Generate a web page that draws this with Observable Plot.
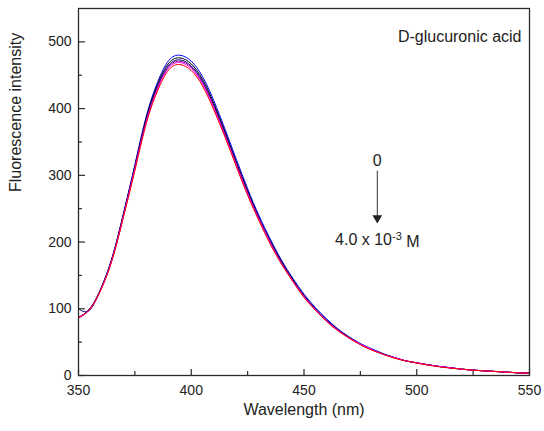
<!DOCTYPE html>
<html>
<head>
<meta charset="utf-8">
<script src="https://cdn.jsdelivr.net/npm/d3@7"></script>
<script src="https://cdn.jsdelivr.net/npm/@observablehq/plot@0.6"></script>
<style>
  html, body { margin: 0; padding: 0; background: #fff; }
  svg { font-family: "Liberation Sans", Arial, sans-serif; }
</style>
</head>
<body>
<div id="chart"></div>
<script>
// Wavelength (nm)
const wavelengths = [350,355,360,365,370,375,380,385,390,395,400,405,410,415,420,425,430,435,440,445,450,455,460,465,470,475,480,485,490,495,500,505,510,515,520,525,530,535,540,545,550];

// Fluorescence intensity, one array per concentration (0 -> 4.0e-3 M)
const seriesBlue    = [87,100,131,178,244,316,388,439,472,480,471,448,412,369,324,280,240,205,173,146,122,102,85,70,58,48,40,33,27,22,19,16,13.5,11.5,9.5,8,7,6,5,4,3.5];
const seriesBlack   = [87,100,130,177,243,314,385,436,468,476,467,444,408,365,320,277,237,202,171,144,120,100,83,69,57,47,39,32,27,22,19,16,13.5,11.5,9.5,8,7,6,5,4,3.5];
const seriesNavy    = [100,98,131,176,241,312,382,433,465,473,464,441,405,363,318,275,236,201,170,143,119,100,83,69,57,47,39,32,27,22,19,16,13.5,11.5,9.5,8,7,6,5,4,3.5];
const seriesPurple  = [87,100,130,175,240,311,381,431,463,471,462,439,403,361,317,274,235,200,169,142,119,99,82,68,57,47,39,32,27,22,19,16,13.5,11.5,9.5,8,7,6,5,4,3.5];
const seriesMagenta = [87,99,129,175,240,310,379,429,461,469,460,437,401,359,315,272,234,199,168,142,118,99,82,68,56,47,39,32,27,22,19,16,13.5,11.5,9.5,8,7,6,5,4,3.5];
const seriesRed     = [86,99,129,174,238,307,377,426,458,466,457,434,398,357,313,270,232,197,167,141,117,98,81,67,56,46,38,32,26,22,18.5,15.5,13,11,9.5,8,7,6,5,4,3.5];

const seriesNames  = ["blue","black","navy","purple","magenta","red"];
const seriesValues = [seriesBlue, seriesBlack, seriesNavy, seriesPurple, seriesMagenta, seriesRed];
const seriesColors = ["#2a2ad0","#1a1a2a","#202080","#8a3aa0","#c03a8a","#e0303a"];

// Axis ticks
const xMajorTicks = [350,400,450,500,550];
const xMinorTicks = [375,425,475,525];
const yMajorTicks = [0,100,200,300,400,500];
const yMinorTicks = [50,150,250,350,450];

// Annotation
const chartTitle = "D-glucuronic acid";
const annoX = 482.5;
const annoTopLabel = "0";
const annoTopY = 322;
const annoArrowY1 = 307;
const annoArrowY2 = 238;
const annoHeadY = 236;
const annoBottomLabel = "4.0 x 10-3 M";
const annoBottomY = 204;

const rows = [];
seriesNames.forEach((name, i) => {
  wavelengths.forEach((w, j) => rows.push({series: name, wavelength: w, value: seriesValues[i][j]}));
});

const W = 544, H = 431, ML = 78, MR = 15, MT = 8, MB = 56;
const frameW = W - ML - MR, frameH = H - MT - MB;

const plot = Plot.plot({
  width: W,
  height: H,
  marginLeft: ML,
  marginRight: MR,
  marginTop: MT,
  marginBottom: MB,
  style: {fontFamily: "'Liberation Sans', Arial, sans-serif", fontSize: "14px", color: "#222", background: "#fff"},
  x: {domain: [350, 550]},
  y: {domain: [0, 550]},
  color: {domain: seriesNames, range: seriesColors},
  marks: [
    Plot.line(rows, {x: "wavelength", y: "value", z: "series", stroke: "series", strokeWidth: 1, curve: "natural"}),
    // inward ticks
    Plot.ruleX(xMajorTicks, {x: d => d, insetTop: frameH - 6, stroke: "#2a2a2a", strokeWidth: 1.2}),
    Plot.ruleX(xMinorTicks, {x: d => d, insetTop: frameH - 4, stroke: "#2a2a2a", strokeWidth: 1.2}),
    Plot.ruleY(yMajorTicks, {y: d => d, insetRight: frameW - 7, stroke: "#2a2a2a", strokeWidth: 1.2}),
    Plot.ruleY(yMinorTicks, {y: d => d, insetRight: frameW - 4, stroke: "#2a2a2a", strokeWidth: 1.2}),
    Plot.frame({stroke: "#2a2a2a", strokeWidth: 1.3}),
    Plot.axisX({ticks: xMajorTicks, tickSize: 0, tickPadding: 10, tickFormat: d => String(d), label: null, fontSize: 14}),
    Plot.axisY({ticks: yMajorTicks, tickSize: 0, tickPadding: 7, tickFormat: d => String(d), label: null, fontSize: 14}),
    Plot.text(["Wavelength (nm)"], {frameAnchor: "bottom", dy: 39, fontSize: 16, fill: "#222"}),
    Plot.text(["Fluorescence intensity"], {frameAnchor: "left", dx: -63, rotate: -90, fontSize: 16, fill: "#222"}),
    Plot.text([chartTitle], {frameAnchor: "top-right", dx: -8, dy: 22, textAnchor: "end", fontSize: 16, fill: "#222"}),
    Plot.text([annoTopLabel], {x: () => annoX, y: () => annoTopY, fontSize: 16, fill: "#222"}),
    Plot.link([0], {x1: () => annoX, x2: () => annoX, y1: () => annoArrowY1, y2: () => annoArrowY2, stroke: "#333", strokeWidth: 1}),
    Plot.dot([0], {x: () => annoX, y: () => annoHeadY, symbol: "triangle", rotate: 180, r: 3.6, fill: "#222", stroke: null}),
    Plot.text([annoBottomLabel], {x: () => annoX, y: () => annoBottomY, fontSize: 16, fill: "#222"})
  ]
});

document.getElementById("chart").appendChild(plot);

// superscript for the exponent
d3.select(plot).selectAll("text").each(function() {
  if (this.textContent === annoBottomLabel) {
    const t = d3.select(this);
    t.text(null);
    t.append("tspan").text("4.0 x 10");
    t.append("tspan").attr("dy", "-0.45em").attr("font-size", "11px").text("-3");
    t.append("tspan").attr("dy", "0.45em").text(" M");
  }
});
</script>
</body>
</html>
